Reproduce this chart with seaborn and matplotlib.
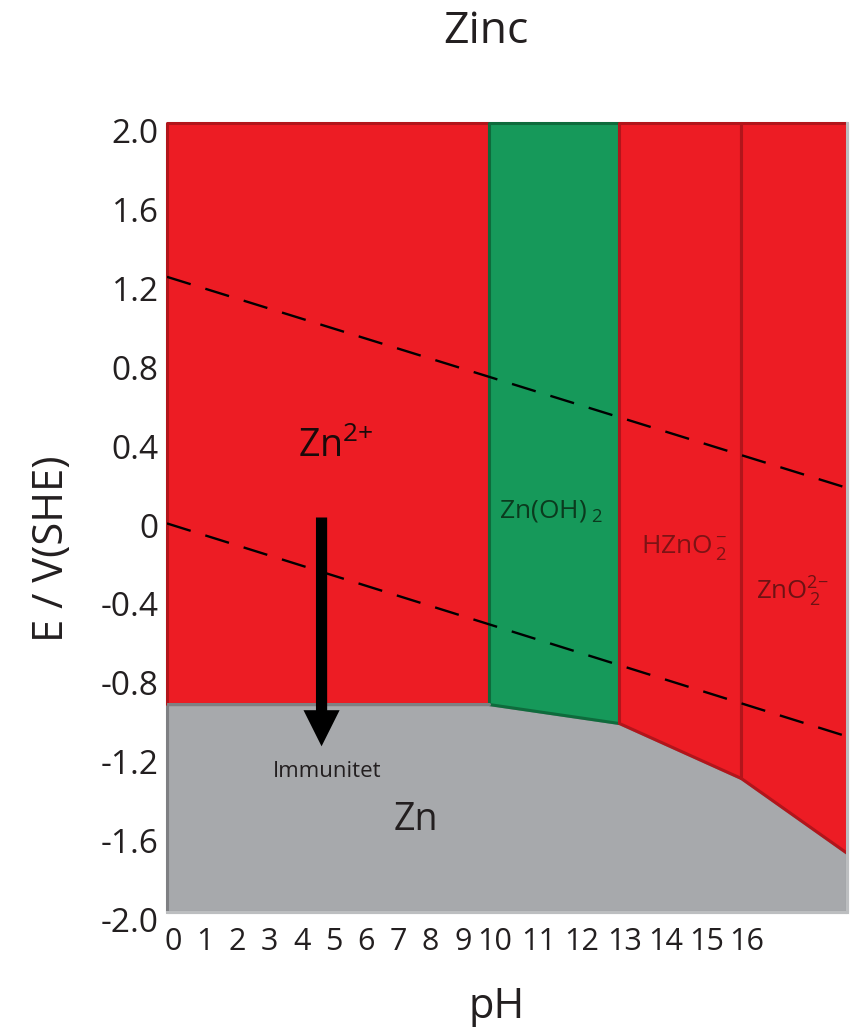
import numpy as np
import pandas as pd
import seaborn as sns
import matplotlib
matplotlib.use("Agg")
import matplotlib.pyplot as plt
from matplotlib.transforms import ScaledTranslation

# ---------------- data ----------------
ph_ticks = list(range(17))
ph_tick_labels = [str(v) for v in ph_ticks]
e_ticks = [2.0, 1.6, 1.2, 0.8, 0.4, 0.0, -0.4, -0.8, -1.2, -1.6, -2.0]
e_tick_labels = ["2.0", "1.6", "1.2", "0.8", "0.4", "0", "-0.4", "-0.8", "-1.2", "-1.6", "-2.0"]

ph_min, ph_max = 0.0, 18.6
e_min, e_max = -2.0, 2.0

# Zn immunity boundary (lower edge of the corrosion / passivity regions)
ph_bounds = [0.0, 10.0, 13.0, 16.0, 18.6]
e_immunity = [-0.946, -0.946, -1.042, -1.321, -1.701]

# water stability lines
ph_water = [0.0, 18.6]
e_oxygen = [1.22, 0.15]
e_hydrogen = [-0.03, -1.11]

# upper regions
region_names = ["Zn2+", "Zn(OH)2", "HZnO2-", "ZnO2 2-"]
region_ph_lo = [0.0, 10.0, 13.0, 16.0]
region_ph_hi = [10.0, 13.0, 16.0, 18.6]

# arrow (immunity direction)
arrow_ph = 4.8
arrow_e_start = 0.0
arrow_e_end = -1.16

# irregular pH axis of the original drawing (scale knots)
scale_ph = [0.0, 10.0, 13.0, 16.0, 18.6]
scale_u = [0.0, 322.0, 452.0, 574.0, 680.0]

# ---------------- style ----------------
RED = "#ED1C24"
RED_EDGE = "#B2151B"
GREEN = "#16995A"
GREEN_EDGE = "#0E6B3C"
GRAY = "#A7A9AC"
GRAY_EDGE = "#7F8083"
FRAME = "#BCBEC0"
TXT = "#231F20"
region_colors = [RED, GREEN, RED, RED]
region_edges = [RED_EDGE, GREEN_EDGE, RED_EDGE, RED_EDGE]

sns.set_theme(style="white")
plt.rcParams["font.family"] = ["Open Sans", "DejaVu Sans"]
plt.rcParams["mathtext.fontset"] = "custom"
plt.rcParams["mathtext.rm"] = "Open Sans"
plt.rcParams["mathtext.it"] = "Open Sans:italic"
plt.rcParams["mathtext.bf"] = "Open Sans:bold"
plt.rcParams["mathtext.default"] = "regular"

fig = plt.figure(figsize=(8.54, 10.27), dpi=100)
ax = fig.add_axes([167 / 854, 1 - 912 / 1027, 680 / 854, 789 / 1027])


def fwd(x):
    return np.interp(x, scale_ph, scale_u)


def inv(u):
    return np.interp(u, scale_u, scale_ph)


ax.set_xscale("function", functions=(fwd, inv))
ax.set_xlim(ph_min, ph_max)
ax.set_ylim(e_min, e_max)

# immunity (Zn) region
ax.fill_between(ph_bounds, e_min, e_immunity, facecolor=GRAY, edgecolor=GRAY_EDGE,
                linewidth=2.2, clip_on=False, zorder=1)

# corrosion / passivity regions
for lo, hi, fc, ec in zip(region_ph_lo, region_ph_hi, region_colors, region_edges):
    xs = [lo, hi]
    ys = np.interp(xs, ph_bounds, e_immunity)
    ax.fill_between(xs, ys, e_max, facecolor=fc, edgecolor=ec, linewidth=2.2,
                    clip_on=False, zorder=1.2)

# gray boundary line on the Zn2+ region
sns.lineplot(x=ph_bounds[:2], y=e_immunity[:2], ax=ax, color=GRAY_EDGE, linewidth=2.2,
             zorder=1.5)

# water lines
for e_line in (e_oxygen, e_hydrogen):
    sns.lineplot(x=ph_water, y=e_line, ax=ax, color="black", linewidth=1.7,
                 linestyle=(0, (10.5, 6.5)), zorder=2)

# arrow
ax.annotate("", xy=(arrow_ph, arrow_e_end), xytext=(arrow_ph, arrow_e_start),
            arrowprops=dict(arrowstyle="simple,head_length=1.0,head_width=1.0,tail_width=0.31",
                            mutation_scale=26, color="black", shrinkA=0, shrinkB=0, lw=0),
            zorder=4)

# region labels
T = ax.transAxes
ax.text(0.2485, 0.5767, "Zn$^{2{+}}$", transform=T, ha="center", va="baseline",
        fontsize=27, color="#1A0A0A", zorder=5)
ax.text(0.5647, 0.4994, "Zn(OH)$_{\\ 2}$", transform=T, ha="center", va="baseline",
        fontsize=19, color="#0B3A1E", zorder=5)
ax.text(0.760, 0.455, "HZnO$_{\\,2}^{\\,{-}}$", transform=T, ha="center", va="baseline",
        fontsize=19, color="#7D1315", zorder=5)
ax.text(0.919, 0.3954, "ZnO$_{\\,2}^{2{-}}$", transform=T, ha="center", va="baseline",
        fontsize=18.5, color="#6E1214", zorder=5)
ax.text(0.366, 0.104, "Zn", transform=T, ha="center", va="baseline",
        fontsize=27, color=TXT, zorder=5)
ax.text(0.2353, 0.171, "Immunitet", transform=T, ha="center", va="baseline",
        fontsize=16, color=TXT, zorder=5)

# ticks
ax.set_xticks(ph_ticks)
ax.set_xticklabels(ph_tick_labels)
ax.set_yticks(e_ticks)
ax.set_yticklabels(e_tick_labels)
ax.minorticks_off()
ax.tick_params(axis="x", length=0, pad=11, labelsize=22, labelcolor=TXT)
ax.tick_params(axis="y", length=0, pad=6, labelsize=24, labelcolor=TXT)
dx = ScaledTranslation(0.06, 0, fig.dpi_scale_trans)
dy = ScaledTranslation(0, -0.075, fig.dpi_scale_trans)
for t in ax.xaxis.get_major_ticks():
    t.label1.set_transform(t.label1.get_transform() + dx)
for t in ax.yaxis.get_major_ticks():
    t.label1.set_transform(t.label1.get_transform() + dy)

# axis labels + title
ax.set_xlabel("pH", fontsize=30, color=TXT)
ax.xaxis.set_label_coords(0.485, -0.094)
ax.set_ylabel("E / V(SHE)", fontsize=30, color=TXT)
ax.yaxis.set_label_coords(-0.138, 0.461)
ax.set_title("Zinc", fontsize=32, color=TXT, x=0.469, y=1.1014, pad=0)

# frame
ax.grid(False)
for s in ("left", "top"):
    ax.spines[s].set_visible(False)
for s in ("bottom", "right"):
    ax.spines[s].set_color(FRAME)
    ax.spines[s].set_linewidth(2.2)
    ax.spines[s].set_zorder(6)

fig.savefig("out.png", dpi=100, facecolor="white")
